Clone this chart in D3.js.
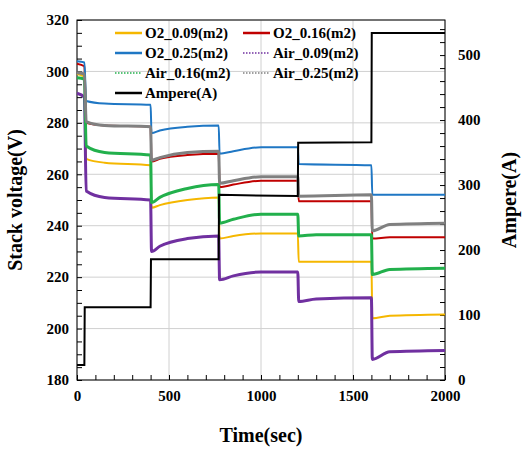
<!DOCTYPE html>
<html><head><meta charset="utf-8">
<script src="https://cdn.jsdelivr.net/npm/d3@7"></script>
<style>body{margin:0;background:#fff}</style></head>
<body><svg id="c" width="529" height="456"></svg>
<script>
const xTicks=[0,500,1000,1500,2000];
const yTicks=[180,200,220,240,260,280,300,320];
const y2Ticks=[0,100,200,300,400,500];
// [time, value] key points
const O2_009=[[0,299],[40,298],[50,266],[150,264.5],[400,263.5],[405,247],[450,248],[600,250],[770,251],[775,235],[850,236],[1000,237],[1200,237],[1205,226],[1600,226],[1605,204],[1700,205],[2000,205.5]];
const O2_016=[[0,303],[40,302],[50,280],[150,279],[400,278.5],[405,265],[450,266],[600,267.5],[770,268],[775,255],[850,256],[1000,257.5],[1200,257.5],[1205,249.5],[1600,249.5],[1605,235],[1700,235.5],[2000,235.5]];
const O2_025=[[0,304],[40,303.5],[50,288.5],[150,287.5],[400,287],[405,276],[450,277],[600,278.5],[770,279],[775,268],[850,269],[1000,270.5],[1200,270.5],[1205,264],[1600,263.5],[1605,252],[1700,252],[2000,252]];
const Air_009=[[0,291.5],[40,290],[50,253.5],[150,251],[400,250],[405,230],[450,232],[600,235],[770,236],[775,219],[850,220.5],[1000,222],[1200,222],[1205,210.5],[1300,211.5],[1600,212],[1605,188],[1700,191],[2000,191.5]];
const Air_016=[[0,297.5],[40,297],[50,271],[150,268.5],[400,267.5],[405,249],[450,251],[600,254.5],[770,256],[775,241],[850,242.5],[1000,244.5],[1200,244.5],[1205,236],[1300,236.5],[1600,236.5],[1605,221],[1700,223],[2000,223.5]];
const Air_025=[[0,299.5],[40,299],[50,280.5],[150,279],[400,278.5],[405,265.5],[450,266.5],[600,268.5],[770,269],[775,256.5],[850,257.5],[1000,259],[1200,259],[1205,251.5],[1600,252],[1605,238],[1700,240.5],[2000,241]];
const Ampere=[[0,23],[40,23],[42,112],[400,112],[402,186],[770,186],[772,285],[1200,283],[1202,365],[1600,366],[1602,534],[2000,534]];
const series=[
 {name:"O2_0.09(m2)",d:O2_009,c:"#f5b700",dash:null},
 {name:"O2_0.16(m2)",d:O2_016,c:"#c00000",dash:null},
 {name:"O2_0.25(m2)",d:O2_025,c:"#1f77c4",dash:null},
 {name:"Air_0.09(m2)",d:Air_009,c:"#7030a0",dash:"2,2"},
 {name:"Air_0.16(m2)",d:Air_016,c:"#22b04c",dash:"2,2"},
 {name:"Air_0.25(m2)",d:Air_025,c:"#808080",dash:"2,2"}];
const svg=d3.select("#c");
const L=77,R=445,T=20,B=380;
const x=d3.scaleLinear().domain([0,2000]).range([L,R]);
const y=d3.scaleLinear().domain([180,320]).range([B,T]);
const y2=d3.scaleLinear().domain([0,554]).range([B,T]);
const g=svg.append("g");
xTicks.forEach(t=>g.append("line").attr("x1",x(t)).attr("x2",x(t)).attr("y1",T).attr("y2",B).attr("stroke","#d0d0d0"));
yTicks.forEach(t=>g.append("line").attr("x1",L).attr("x2",R).attr("y1",y(t)).attr("y2",y(t)).attr("stroke","#d0d0d0"));
const font="Liberation Serif";
function styleAxis(a){a.selectAll("text").attr("font-family",font).attr("font-weight","bold").attr("font-size",15).attr("fill","#000");a.select(".domain").remove();}
const ax=svg.append("g").attr("transform",`translate(0,${B})`).call(d3.axisBottom(x).tickValues(xTicks).tickSize(0).tickPadding(10).tickFormat(d3.format("d")));styleAxis(ax);
svg.append("g").attr("transform",`translate(0,${B})`).call(d3.axisTop(x).tickValues(d3.range(0,2001,100)).tickSize(5).tickFormat("")).select(".domain").remove();
const ay=svg.append("g").attr("transform",`translate(${L},0)`).call(d3.axisLeft(y).tickValues(yTicks).tickSize(0).tickPadding(8));styleAxis(ay);
svg.append("g").attr("transform",`translate(${L},0)`).call(d3.axisRight(y).tickValues(d3.range(180,321,5)).tickSize(5).tickFormat("")).select(".domain").remove();
const ay2=svg.append("g").attr("transform",`translate(${R},0)`).call(d3.axisRight(y2).tickValues(y2Ticks).tickSize(0).tickPadding(13));styleAxis(ay2);
svg.append("g").attr("transform",`translate(${R},0)`).call(d3.axisLeft(y2).tickValues(d3.range(0,551,20)).tickSize(5).tickFormat("")).select(".domain").remove();
svg.append("rect").attr("x",L).attr("y",T).attr("width",R-L).attr("height",B-T).attr("fill","none").attr("stroke","#000");
const line=d3.line().x(d=>x(d[0])).y(d=>y(d[1])).curve(d3.curveMonotoneX);
series.forEach(s=>svg.append("path").attr("d",line(s.d)).attr("fill","none").attr("stroke",s.c).attr("stroke-width",s.dash?3:2));
svg.append("path").attr("d",d3.line().x(d=>x(d[0])).y(d=>y2(d[1]))(Ampere)).attr("fill","none").attr("stroke","#000").attr("stroke-width",2);
// legend
const leg=[[0,0],[1,0],[0,1],[1,1],[0,2],[1,2]];
const allS=series.concat([{name:"Ampere(A)",c:"#000",dash:null}]);
allS.forEach((s,i)=>{const col=i<6?leg[i][0]:0,row=i<6?leg[i][1]:3;
 const lx=col?243:115,ly=33+row*20;
 svg.append("line").attr("x1",lx).attr("x2",lx+27).attr("y1",ly).attr("y2",ly).attr("stroke",s.c).attr("stroke-width",s.dash?1.5:2.5).attr("stroke-dasharray",s.dash?"1.5,1.5":null);
 svg.append("text").attr("x",lx+30).attr("y",ly+5).text(s.name).attr("font-family",font).attr("font-weight","bold").attr("font-size",15);
});
svg.append("text").attr("x",(L+R)/2).attr("y",442).attr("text-anchor","middle").text("Time(sec)").attr("font-family",font).attr("font-weight","bold").attr("font-size",20);
svg.append("text").attr("transform",`translate(22,${(T+B)/2}) rotate(-90)`).attr("text-anchor","middle").text("Stack voltage(V)").attr("font-family",font).attr("font-weight","bold").attr("font-size",20);
svg.append("text").attr("transform",`translate(516,${(T+B)/2}) rotate(-90)`).attr("text-anchor","middle").text("Ampere(A)").attr("font-family",font).attr("font-weight","bold").attr("font-size",20);
</script></body></html>
